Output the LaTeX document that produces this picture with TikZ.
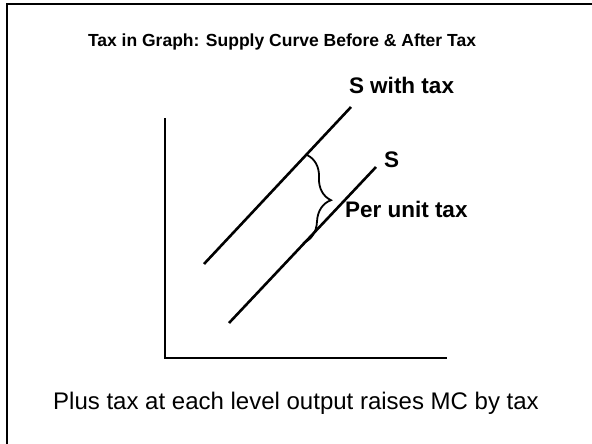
\documentclass[tikz,border=0pt]{standalone}
\usepackage{fontspec}
\setmainfont{Liberation Sans}
\usetikzlibrary{decorations.pathreplacing, positioning}

\begin{document}
\begin{tikzpicture}[x=1pt, y=-1pt, line width=2pt,
    lbl/.style={font=\bfseries\fontsize{22.5}{26}\selectfont, inner sep=0pt, anchor=base west},
    curve/.style={line width=2.6pt}]
    \useasboundingbox (0,0) rectangle (592,444);
    % frame (only top and left edge show)
    \coordinate (fb) at (7,446);
    \coordinate (fc) at (7,4);
    \coordinate (fr) at (594,4);
    \draw (fb) -- (fc) -- (fr);

    \node[font=\bfseries\fontsize{17.5}{21}\selectfont, inner sep=0pt] (title) at (282,42) {Tax in Graph: Supply Curve Before \& After Tax};

    % axes
    \coordinate (ytop) at (165,118);
    \coordinate (O) at (165,358);
    \coordinate (xend) at (447,358);
    \draw (ytop) -- (O) -- (xend);

    % supply curves
    \coordinate (t0) at (204,264);
    \coordinate (t1) at (351,107);
    \coordinate (s0) at (229,323);
    \coordinate (s1) at (376,167);
    \draw[curve] (t0) -- (t1);
    \draw[curve] (s0) -- (s1);

    \node[lbl] (Stax) at (348,93) {S with tax};
    \node[lbl] (S) at (383,167) {S};
    \node[lbl] (per) at (344,217) {Per unit tax};

    % the tax gap
    \coordinate (b1) at (307,155);
    \coordinate (b2) at (303,243);
    \draw[line width=1.8pt, decorate, decoration={brace, amplitude=26pt}] (b1) -- (b2);

    \node[font=\fontsize{24}{28}\selectfont, inner sep=0pt] (note) at (296,403) {Plus tax at each level output raises MC by tax};
\end{tikzpicture}
\end{document}
